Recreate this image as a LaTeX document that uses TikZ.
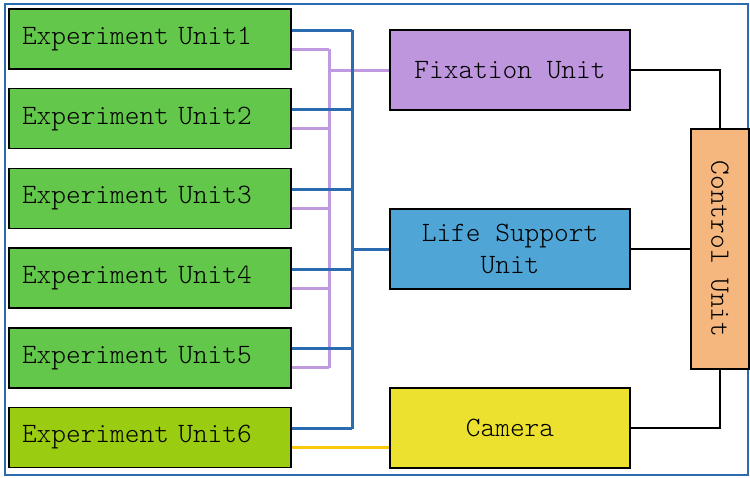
\documentclass[tikz,border=0pt]{standalone}
\usepackage{fontspec}
\setmonofont{Latin Modern Mono Light}
\usetikzlibrary{positioning}
\definecolor{expgreen}{HTML}{62C74B}
\definecolor{expolive}{HTML}{9ACD12}
\definecolor{fixpurple}{HTML}{BE96DE}
\definecolor{lifeblue}{HTML}{4FA6D6}
\definecolor{camyellow}{HTML}{EBE12E}
\definecolor{ctrlorange}{HTML}{F6B77F}
\definecolor{busblue}{HTML}{2B6CB0}
\definecolor{buspurple}{HTML}{C09AE0}
\definecolor{busyellow}{HTML}{F9C80E}

\begin{document}
\begin{tikzpicture}[x=1pt,y=-1pt,node distance=79.7pt,on grid]
\tikzset{boxstyle/.style={draw,line width=1.5pt,inner sep=0pt,font=\fontsize{28}{32}\selectfont\ttfamily}}
\tikzset{expstyle/.style={boxstyle,fill=expgreen,minimum height=60pt,text width=256pt,inner xsep=13pt,align=left}}
\tikzset{unitstyle/.style={boxstyle,minimum width=240pt,minimum height=80pt,align=center}}
\tikzset{bluebus/.style={busblue,line width=3pt}}
\tikzset{purplebus/.style={buspurple,line width=3pt}}
\tikzset{ctrlline/.style={black,line width=2pt}}
  \useasboundingbox (0,0) rectangle (750,477);
  \draw[busblue,line width=1.3pt] (5,4) rectangle (748,475);

  \node[expstyle]              (e1) at (150,39) {Experiment Unit1};
  \node[expstyle]              (e2) [below =of e1] {Experiment Unit2};
  \node[expstyle]              (e3) [below =of e2] {Experiment Unit3};
  \node[expstyle]              (e4) [below =of e3] {Experiment Unit4};
  \node[expstyle]              (e5) [below =of e4] {Experiment Unit5};
  \node[expstyle,fill=expolive] (e6) [below =of e5] {Experiment Unit6};

  \node[unitstyle,fill=fixpurple]  (fix)  at (510,70)  {Fixation Unit};
  \node[unitstyle,fill=lifeblue]   (life) at (510,249) {Life Support\\Unit};
  \node[unitstyle,fill=camyellow]  (cam)  at (510,428) {Camera};
  \node[boxstyle,fill=ctrlorange,rotate=-90,minimum width=240pt,minimum height=58pt]
                                   (ctrl) at (720,249) {Control Unit};

  \coordinate (bbus) at (352,0);
  \coordinate (pbus) at (329,0);

  % purple bus to the fixation unit
  \foreach \i in {1,...,5}
    \draw[purplebus] ([yshift=-10pt]e\i.east) -- ([yshift=-10pt]e\i.east -| pbus);
  \draw[purplebus] ([yshift=-10pt]e1.east -| pbus) -- ([yshift=-10pt]e5.east -| pbus);
  \draw[purplebus] (fix.west -| pbus) -- (fix.west);

  % blue bus to the life support unit
  \foreach \i in {1,...,6}
    \draw[bluebus] ([yshift=9pt]e\i.east) -- ([yshift=9pt]e\i.east -| bbus);
  \draw[bluebus] ([yshift=9pt]e1.east -| bbus) -- ([yshift=9pt]e6.east -| bbus);
  \draw[bluebus] (life.west -| bbus) -- (life.west);

  \draw[busyellow,line width=3pt] ([yshift=-10pt]e6.east) -- ([yshift=-10pt]e6.east -| cam.west);

  % control lines
  \draw[ctrlline] (fix.east) -| (ctrl.west);
  \draw[ctrlline] (life.east) -- (ctrl.south);
  \draw[ctrlline] (cam.east) -| (ctrl.east);
\end{tikzpicture}
\end{document}
